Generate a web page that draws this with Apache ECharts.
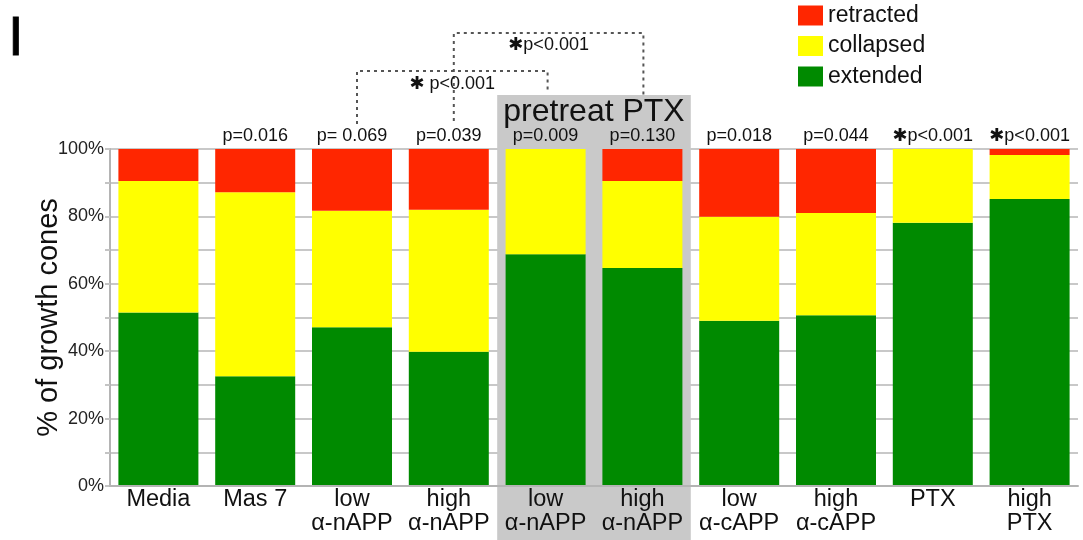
<!DOCTYPE html>
<html><head><meta charset="utf-8">
<script src="https://cdn.jsdelivr.net/npm/echarts@6/dist/echarts.min.js"></script>
<style>html,body{margin:0;padding:0;background:#fff}#c{width:1083px;height:540px}</style>
</head><body><div id="c"></div>
<script>
const categories = ['Media', 'Mas 7', 'low α-nAPP', 'high α-nAPP', 'pretreat low α-nAPP', 'pretreat high α-nAPP', 'low α-cAPP', 'high α-cAPP', 'PTX', 'high PTX'];
const tickLabels = ['Media', 'Mas 7', 'low\nα-nAPP', 'high\nα-nAPP', 'low\nα-nAPP', 'high\nα-nAPP', 'low\nα-cAPP', 'high\nα-cAPP', 'PTX', 'high\nPTX'];
const pValues = ['', 'p=0.016', 'p= 0.069', 'p=0.039', 'p=0.009', 'p=0.130', 'p=0.018', 'p=0.044', '*p<0.001', '*p<0.001'];
const extended  = [51.5, 32.6, 47.1, 39.8, 68.8, 64.7, 49.0, 50.7, 78.1, 85.2];
const collapsed = [39.0, 54.6, 34.6, 42.2, 31.2, 25.8, 30.9, 30.3, 21.9, 13.0];
const retracted = [9.5, 12.8, 18.3, 18.0, 0.0, 9.5, 20.1, 19.0, 0.0, 1.8];
const yTickLabels = ['0%', '20%', '40%', '60%', '80%', '100%'];
const bracketLabels = ['* p<0.001', '*p<0.001'];

const FONT = '"Liberation Sans", Arial, sans-serif';
const STAR = {fontFamily: '"DejaVu Sans"', fontSize: 18, color: '#111', fill: '#111', fontWeight: 'bold'};
function starText(s) {
  if (s.charAt(0) === '*') {
    const rest = s.slice(1);
    return '{s|✱}{t|' + rest + '}';
  }
  return '{t|' + s + '}';
}

const chart = echarts.init(document.getElementById('c'), null, {renderer: 'canvas'});
const option = {
  animation: false,
  backgroundColor: '#fff',
  textStyle: {fontFamily: FONT},
  grid: {left: 110, right: 5, top: 149, bottom: 54, containLabel: false},
  legend: {
    orient: 'vertical', left: 798, top: 4, padding: 0,
    itemWidth: 25, itemHeight: 20, itemGap: 7.5, icon: 'rect',
    data: ['retracted', 'collapsed', 'extended'],
    textStyle: {fontSize: 23, color: '#111', fontFamily: FONT, lineHeight: 20}
  },
  xAxis: [{
    type: 'category', data: categories, z: 3,
    axisLine: {show: true, lineStyle: {color: '#b4b4b4', width: 2}},
    axisTick: {show: false},
    axisLabel: {
      interval: 0, margin: 2, fontSize: 23.5, lineHeight: 24, color: '#111', fontFamily: FONT,
      formatter: (v) => tickLabels[categories.indexOf(v)]
    }
  }, {
    type: 'category', data: categories, position: 'top', z: 3,
    axisLine: {show: false}, axisTick: {show: false},
    axisLabel: {
      interval: 0, margin: 4, color: '#111',
      formatter: (v) => starText(pValues[categories.indexOf(v)]),
      rich: {s: STAR, t: {fontSize: 18, color: '#111', fontFamily: FONT}}
    }
  }],
  yAxis: {
    type: 'value', min: 0, max: 100, interval: 10,
    name: '% of growth cones', nameLocation: 'middle', nameGap: 47, nameMoveOverlap: false,
    nameTextStyle: {fontSize: 29, color: '#111', fontFamily: FONT},
    axisLine: {show: true, lineStyle: {color: '#b4b4b4', width: 2}},
    axisTick: {show: true, length: 5, lineStyle: {color: '#c4c4c4', width: 2}},
    splitLine: {show: true, lineStyle: {color: '#c8c8c8', width: 2}},
    axisLabel: {
      margin: 6, fontSize: 18, color: '#222', fontFamily: FONT,
      formatter: v => (v % 20 === 0 ? yTickLabels[v / 20] : '')
    }
  },
  series: [
    {name: 'extended', type: 'bar', stack: 'total', data: extended, barWidth: 80, itemStyle: {color: '#008a00'}},
    {name: 'collapsed', type: 'bar', stack: 'total', data: collapsed, barWidth: 80, itemStyle: {color: '#ffff00'}},
    {name: 'retracted', type: 'bar', stack: 'total', data: retracted, barWidth: 80, itemStyle: {color: '#ff2600'}}
  ]
};
chart.setOption(option);

const xp = i => chart.convertToPixel({xAxisIndex: 0}, categories[i]);
const band = xp(1) - xp(0);
const dash = {stroke: '#555', lineWidth: 2, lineDash: [3, 4], fill: null};
function bracket(x1, x2, yTop, yL, yR) {
  return {type: 'polyline', z: 5, silent: true,
    shape: {points: [[x1, yL], [x1, yTop], [x2, yTop], [x2, yR]]}, style: dash};
}
const b1L = xp(2) + 5, b1R = xp(4) + 2;
const b2L = xp(3) + 5, b2R = xp(5) + 1;
const boxL = xp(4) - band / 2, boxR = xp(5) + band / 2;
const richB = {s: STAR, t: {fontSize: 18, fill: '#111', fontFamily: FONT}};
chart.setOption({
  graphic: {elements: [
    {type: 'rect', z: 1, silent: true, shape: {x: boxL, y: 95, width: boxR - boxL, height: 450}, style: {fill: '#c9c9c9'}},
    {type: 'text', z: 5, silent: true, x: (boxL + boxR) / 2, y: 112,
      style: {text: 'pretreat PTX', fontSize: 32, fontFamily: FONT, fill: '#111', align: 'center', verticalAlign: 'middle'}},
    bracket(b1L, b1R, 71, 124, 92),
    bracket(b2L, b2R, 33, 121, 95),
    {type: 'text', z: 5, silent: true, x: (b1L + b1R) / 2, y: 84,
      style: {text: starText(bracketLabels[0]), align: 'center', verticalAlign: 'middle', rich: richB}},
    {type: 'text', z: 5, silent: true, x: (b2L + b2R) / 2, y: 45,
      style: {text: starText(bracketLabels[1]), align: 'center', verticalAlign: 'middle', rich: richB}},
    {type: 'text', z: 5, silent: true, x: 8, y: 40,
      style: {text: 'I', fontSize: 56, fontFamily: FONT, fill: '#000', verticalAlign: 'middle', stroke: '#000', lineWidth: 0.8}}
  ]}
});
</script></body></html>
